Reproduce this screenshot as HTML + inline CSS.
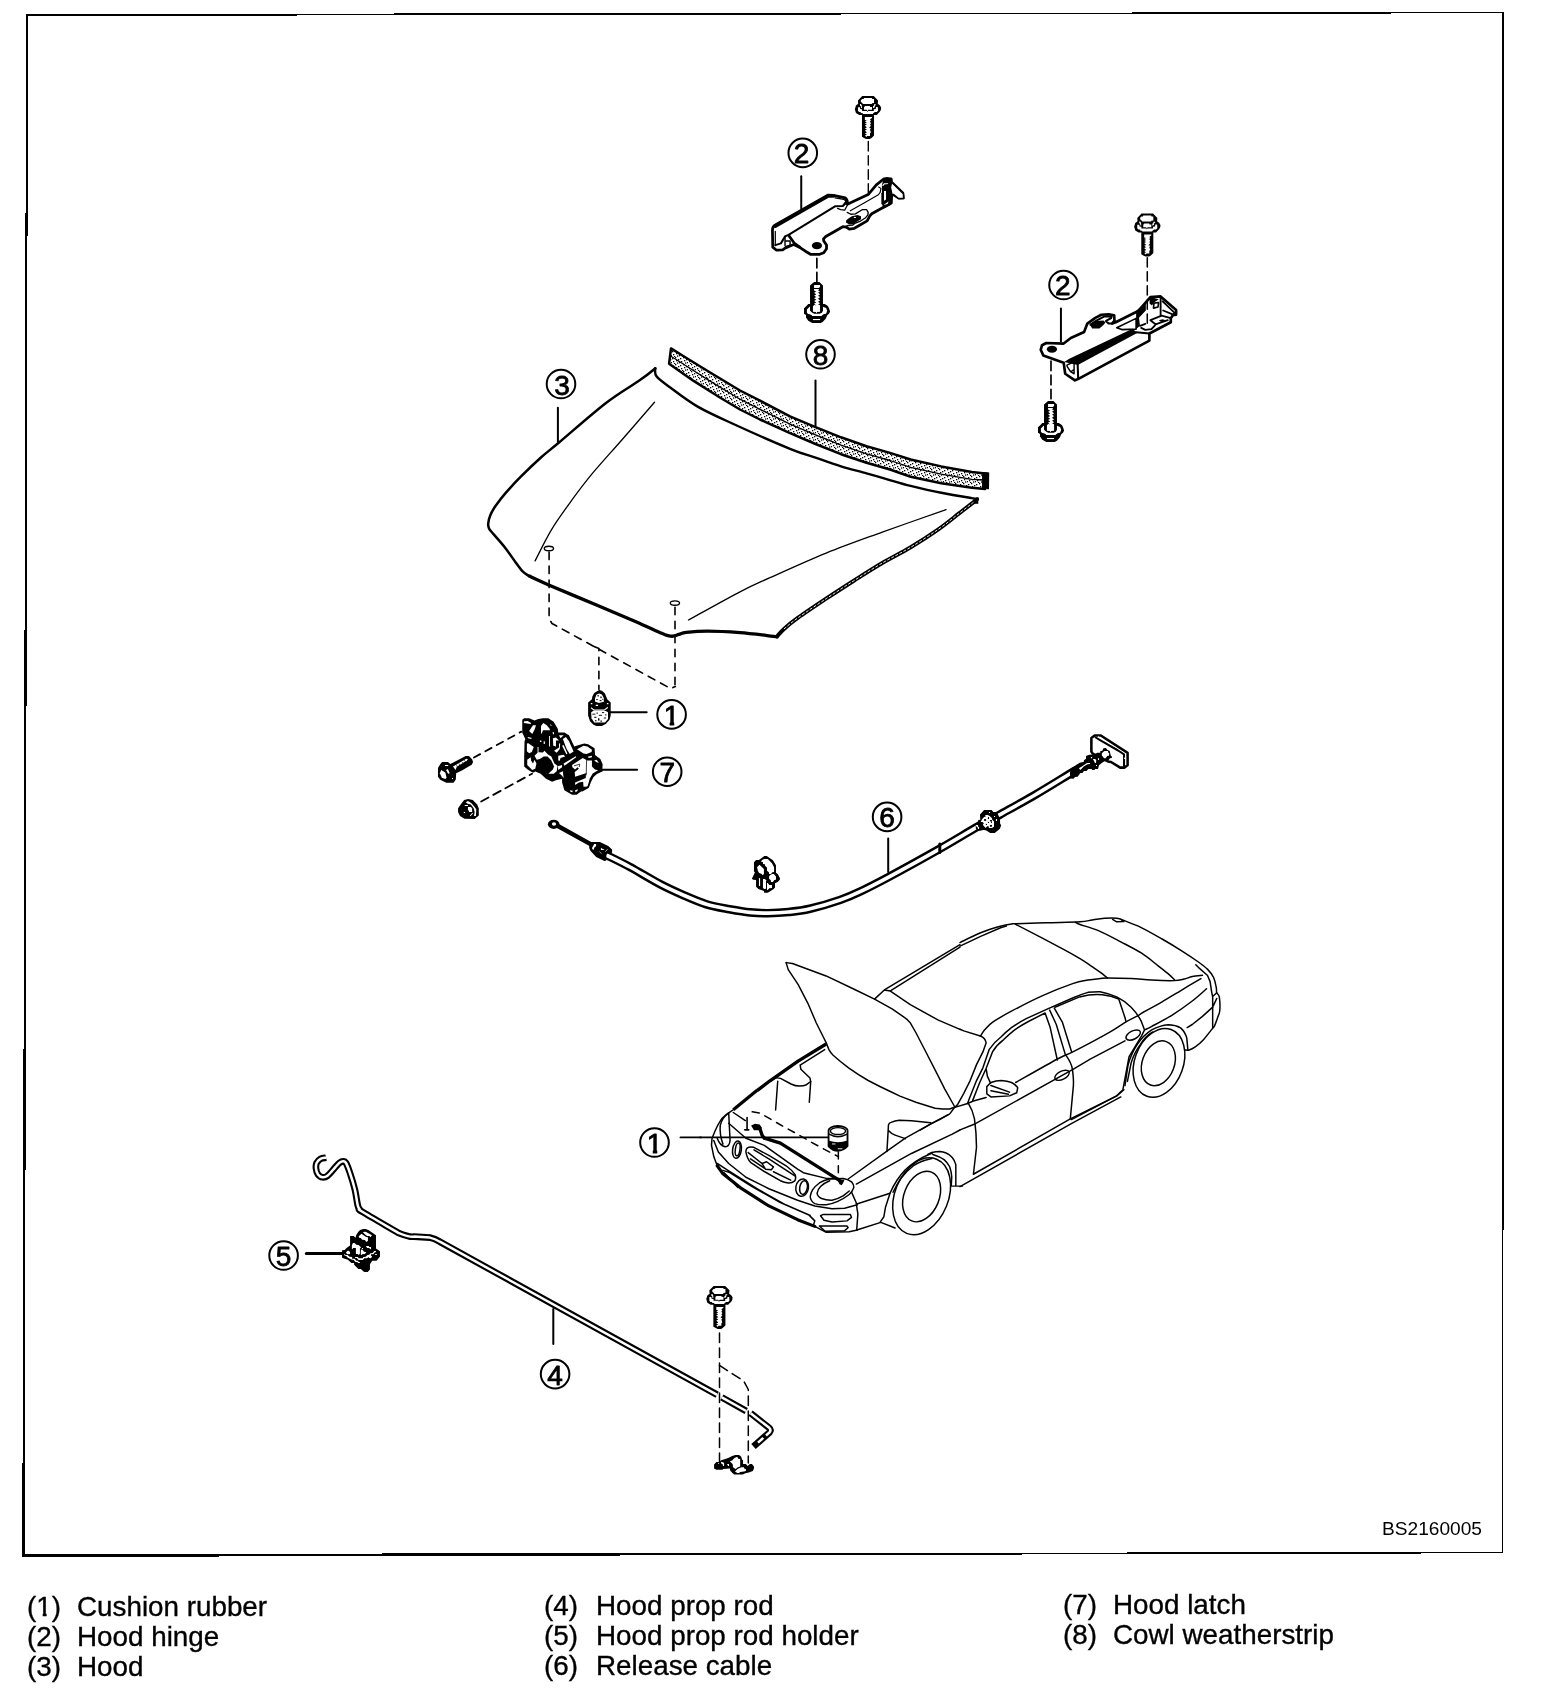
<!DOCTYPE html>
<html><head><meta charset="utf-8">
<style>
html,body{margin:0;padding:0;background:#fff;}
body{width:1568px;height:1698px;overflow:hidden;position:relative;font-family:"Liberation Sans",sans-serif;color:#000;}
svg{position:absolute;left:0;top:0;will-change:transform;}
.leg{position:absolute;font-size:26px;line-height:30px;white-space:pre;}
.s{fill:none;stroke:#000;stroke-linecap:round;stroke-linejoin:round;}
.f{fill:#000;stroke:none;}
.w{fill:#fff;stroke:#000;stroke-linejoin:round;}
text{font-family:"Liberation Sans",sans-serif;fill:#000;}
</style></head><body>
<svg width="1568" height="1698" viewBox="0 0 1568 1698">
<defs>
<!-- bolt: origin = top centre of head, pointing down. drawn in 22.4x zoom coords -->
<g id="bolt" transform="scale(0.04464) translate(-740,-245)">
<path class="f" d="M610,245 H870 L965,345 L960,420 L1005,455 L1035,500 L1030,555 L1005,600 L935,670 H875 V1130 L820,1185 L780,1210 H700 L650,1185 L605,1160 V670 H545 L470,625 L445,540 L470,460 L520,420 L515,345 Z"/>
<path fill="#fff" d="M650,290 H825 L835,315 H875 V400 L830,405 L825,425 H630 L610,400 L580,375 V340 L610,315 L645,310 Z"/>
<path fill="#fff" d="M675,470 H780 L790,490 L830,492 V555 H745 L730,585 L715,555 H650 V495 Z"/>
<path fill="#fff" d="M560,425 H580 L600,455 L605,515 H585 L580,475 L560,465 Z"/>
<path fill="#fff" d="M875,430 H915 V450 L895,460 L890,495 L865,515 H850 L855,470 L875,465 Z"/>
<path fill="#fff" d="M515,495 H560 L565,535 L605,540 L610,580 H715 L730,605 L745,582 H870 V540 L915,535 L920,492 H960 L965,575 L935,605 H895 L855,630 L850,650 H630 L620,630 L580,628 L575,605 H540 L515,575 Z"/>
<path fill="#fff" d="M670,715 H830 V735 L785,770 L805,795 L785,815 L805,860 L785,885 L805,910 L765,955 L805,970 L785,1000 L805,1060 L785,1080 V1140 H720 L705,1165 L670,1130 L715,1115 L670,1085 L715,1065 L670,1020 L715,1000 L670,965 L715,950 L670,905 L715,885 L670,860 L715,840 L670,815 L715,795 L670,780 Z"/>
</g>
<!-- bolt2: up-pointing bolt seen from above; origin = bottom centre of head. 22.4x coords -->
<g id="bolt2" transform="scale(0.04464) translate(-705,-1075)">
<path class="f" d="M650,155 H770 L850,235 V650 H890 L960,695 L985,745 L1010,820 L985,870 L945,900 L915,975 L850,1045 L800,1075 H610 L520,1025 L470,950 V895 L425,865 V745 L480,695 L520,650 H560 V235 Z"/>
<path fill="#fff" d="M650,225 H785 V265 L760,290 H650 Z"/>
<path fill="#fff" d="M650,315 H765 L740,345 L785,365 L740,395 L785,430 L740,465 L785,495 L740,530 L785,570 L740,600 L785,635 L740,660 L785,675 V825 L720,830 L705,855 L690,830 L625,825 V700 L660,665 L700,690 L650,640 L700,615 L650,580 L700,555 L650,520 L700,495 L650,460 L700,435 L650,400 L700,375 L650,345 Z"/>
<path fill="#fff" d="M490,770 L550,710 H560 V800 L610,845 L655,870 H775 L825,845 L850,800 V710 L920,740 L945,800 L920,870 L875,875 L830,900 L820,920 H610 L600,900 L555,880 L520,875 L490,845 Z"/>
<path fill="#fff" d="M625,985 H785 V1010 H625 Z"/>
</g>
<pattern id="stip" width="8" height="7" patternUnits="userSpaceOnUse">
<g fill="#000"><rect x="0" y="1" width="1.3" height="1.3"/><rect x="3" y="0" width="1.3" height="1.3"/><rect x="6" y="2" width="1.3" height="1.3"/><rect x="1" y="4" width="1.3" height="1.3"/><rect x="4" y="3" width="1.3" height="1.3"/><rect x="7" y="5" width="1.3" height="1.3"/><rect x="2" y="6" width="1.3" height="1"/><rect x="5" y="5.4" width="1.3" height="1.3"/></g>
</pattern>
<clipPath id="nofoot"><path clip-rule="evenodd" d="M0,0 H1568 V1698 H0 Z M664,721.4 H669.7 V726.2 H664 Z M674.2,721.4 H679 V726.2 H674.2 Z M647,1149.5 H652.8 V1154.3 H647 Z M657.2,1149.5 H662 V1154.3 H657.2 Z M37,1612.5 H42.7 V1617 H37 Z M46.6,1612.5 H51.5 V1617 H46.6 Z"/></clipPath>
</defs>
<!-- BORDER -->
<g fill="#000" shape-rendering="crispEdges">
<polygon points="26,14 28,14 24.7,1557 22.3,1557"/>
<polygon points="26,14 1504,12 1504,13.3 26,16"/>
<polygon points="1502,12 1504,12 1503.4,1553.3 1502,1553.3"/>
<polygon points="22,1554 1503.4,1552 1503.4,1553.3 22,1557"/>
</g>
<text x="1382" y="1535" font-size="18.5" textLength="100" lengthAdjust="spacingAndGlyphs">BS2160005</text>
<!-- LEGEND -->
<g font-size="27.8" stroke="#000" stroke-width="0.35">
<text x="27" y="1616" clip-path="url(#nofoot)">(1)</text><text x="77" y="1616">Cushion rubber</text>
<text x="27" y="1646">(2)</text><text x="77" y="1646">Hood hinge</text>
<text x="27" y="1676">(3)</text><text x="77" y="1676">Hood</text>
<text x="544" y="1615">(4)</text><text x="596" y="1615">Hood prop rod</text>
<text x="544" y="1645">(5)</text><text x="596" y="1645">Hood prop rod holder</text>
<text x="544" y="1675">(6)</text><text x="596" y="1675">Release cable</text>
<text x="1063" y="1614">(7)</text><text x="1113" y="1614">Hood latch</text>
<text x="1063" y="1644">(8)</text><text x="1113" y="1644">Cowl weatherstrip</text>
</g>
<!-- TOP HINGE bolts -->
<use href="#bolt" transform="translate(868,96)"/>
<!-- TOP HINGE body: left part in 9.8x coords of [760,165] -->
<g transform="translate(760,165) scale(0.10204)">
<path class="w" stroke-width="27" d="M125,805 L122,640 Q122,600 150,588 L665,295 L720,297 L835,322 Q862,345 856,385 L1060,290 L1140,195 L1215,135 L1285,135 L1290,170 L1400,275 L1405,325 L1360,325 L1300,285 L1290,300 L1287,372 L1095,478 L1075,500 L1050,548 L925,620 L875,628 L845,608 L812,605 L645,700 L622,725 L625,745 L652,785 L652,820 L625,860 L585,875 L495,875 L445,845 L385,805 L330,780 L250,812 L222,832 L162,835 Z"/>
<path class="s" stroke-width="34" d="M150,600 L668,303 L720,304"/>
<path class="s" stroke-width="12" d="M150,790 L150,650 M735,322 L820,336 L843,354 L812,398"/>
<path class="s" stroke-width="20" d="M150,785 L205,768 L245,700 L280,685 L735,405 L812,402 L852,362"/>
<path class="s" stroke-width="26" d="M283,692 L335,765 L390,805"/>
<path class="s" stroke-width="14" d="M245,700 V790 M255,745 H295 V785 L250,800"/>
<path class="s" stroke-width="12" d="M760,425 L790,437 L830,442 L856,395"/>
<ellipse class="f" cx="558" cy="790" rx="50" ry="36"/>
</g>
<!-- right part in 19.6x coords of [835,170] -->
<g transform="translate(835,170) scale(0.05102)">
<path class="f" d="M920,300 L950,160 L1020,135 L1100,160 L1115,230 L1115,640 L1090,685 L950,760 L920,660 Z"/>
<path fill="#fff" d="M960,410 H1000 V580 L960,605 Z M960,260 H1040 V275 L965,282 L955,310 H920 Z M960,680 L1040,620 L1052,612 L1030,665 L960,688 Z"/>
<path class="w" stroke-width="30" d="M1110,240 L1340,465 L1345,555 L1245,558 L1150,480 L1115,480 L1085,340 Z"/>
<path class="s" stroke-width="22" d="M300,800 L570,645 L850,485 L885,440 L900,360 L855,335"/>
<path class="s" stroke-width="22" d="M920,455 V660"/>
<path class="s" stroke-width="26" d="M240,830 L310,868 L400,860 L540,775 L620,775 L650,830 L645,880 L600,935 L500,1000 L400,1040 L350,1080 L260,1088 L220,1100"/>
<path class="f" d="M220,985 L270,945 L330,905 L440,880 L510,905 L510,965 L420,1020 L350,1070 L280,1070 L215,1030 Z"/>
<path fill="#fff" d="M370,920 H410 V940 H370Z"/>
</g>
<!-- callout 2 top + leader, dashed lines -->
<g transform="translate(740,80) scale(0.1531)">
<circle class="s" cx="410" cy="476" r="93.4" stroke-width="13"/>
<path class="s" stroke-width="13" d="M400,628 V840"/>
<path class="s" stroke-width="9" stroke-dasharray="62 30" d="M838,402 V745"/>
<path class="s" stroke-width="11" stroke-dasharray="62 30" d="M502,1165 V1320"/>
</g>
<text x="801.5" y="163.3" font-size="28" text-anchor="middle" stroke="#000" stroke-width="0.8" stroke-linejoin="round">2</text>
<use href="#bolt2" transform="translate(816.5,323)"/>
<!-- RIGHT HINGE body in 9.8x coords of [1030,285] -->
<g transform="translate(1030,285) scale(0.10204)">
<path class="w" stroke-width="26" d="M105,635 L118,590 L160,568 L330,574 L400,520 L530,460 L562,378 L640,322 L700,292 L770,287 L825,298 L828,350 L805,378 L840,365 L1065,252 L1135,170 L1180,118 L1280,112 L1432,245 L1432,290 L1400,296 L1380,325 L1380,365 L1180,470 L1170,475 L1170,545 L470,922 L440,935 L345,870 L330,762 L130,690 Z"/>
<path class="f" d="M335,755 L385,722 L1005,428 L1050,470 L468,785 Z"/>
<path class="s" stroke-width="20" d="M1040,462 L1170,475"/>
<path class="s" stroke-width="20" d="M467,770 L472,915"/>
<path class="s" stroke-width="14" d="M362,785 L432,752 L432,870 L398,850 L365,800 Z M400,850 L430,830"/>
<path class="s" stroke-width="20" d="M805,378 L770,378 L745,352 L795,325 L800,310 L730,307 L650,350 L592,388"/>
<path class="f" d="M590,395 L650,352 L720,347 L740,367 L720,392 L680,427 L610,427 Z"/>
<path class="f" d="M1040,255 L1135,165 L1135,250 L1068,320 L1078,400 L1040,432 Z"/>
<path class="s" stroke-width="16" d="M850,418 L1040,327 V432 L900,437 Z"/>
<path class="f" d="M1172,115 L1262,140 L1215,172 L1195,202 L1172,182 Z"/>
<path class="s" stroke-width="16" d="M1215,178 L1260,172 L1255,215 L1210,227 Z"/>
<path class="s" stroke-width="18" d="M1280,120 V300 M1300,160 L1415,270 L1410,292 L1305,250 M1180,345 L1290,300 L1380,325 M1180,345 L1230,385 L1350,345 M1080,400 L1130,380 M1090,420 L1130,440 L1190,432 L1225,395"/>
<path class="f" d="M1262,345 L1300,335 L1330,345 L1290,365 Z"/>
<ellipse class="f" cx="215" cy="630" rx="50" ry="34"/>
</g>
<g transform="translate(1000,200) scale(0.1531)">
<circle class="s" cx="415" cy="555" r="93.4" stroke-width="13"/>
<path class="s" stroke-width="13" d="M398,708 V925"/>
<path class="s" stroke-width="10" stroke-dasharray="60 32" d="M962,377 V830"/>
<path class="s" stroke-width="11" stroke-dasharray="62 30" d="M333,1052 V1310"/>
</g>
<text x="1062.8" y="295.3" font-size="28" text-anchor="middle" stroke="#000" stroke-width="0.8" stroke-linejoin="round">2</text>
<use href="#bolt" transform="translate(1147.3,213.5)"/>
<use href="#bolt2" transform="translate(1050.5,442)"/>
<!-- HOOD -->
<path class="s" stroke-width="2.5" d="M655.3,368.3 C652.8,370.3 648.2,374.3 640.0,380.1 C631.8,385.9 619.4,392.7 606.0,403.0 C592.6,413.3 570.4,432.9 559.6,442.0 C548.8,451.1 547.7,451.5 541.2,457.3 C534.7,463.1 526.8,470.7 520.8,476.7 C514.8,482.7 509.8,488.2 505.5,493.1 C501.2,498.0 497.9,502.6 495.3,506.3 C492.8,510.0 491.4,512.6 490.2,515.5 C489.0,518.4 488.4,521.5 488.2,523.7 C488.0,525.9 488.3,527.1 489.2,528.8 C490.1,530.5 490.6,530.7 493.3,533.9 C496.0,537.1 501.8,543.5 505.5,548.2 C509.2,553.0 512.8,558.5 515.7,562.4 C518.6,566.3 520.6,569.3 522.9,571.6 C525.2,573.9 528.2,575.4 529.3,576.1"/>
<path class="s" stroke-width="3.3" d="M529.3,576.1 C532.5,577.6 537.5,580.1 548.7,584.9 C559.9,589.7 582.1,599.0 596.5,605.0 C610.9,611.0 623.9,616.5 634.8,621.2 C645.6,625.9 656.1,630.9 661.6,633.3 C667.1,635.7 666.1,635.1 668.0,635.6 C669.9,636.1 671.2,636.4 673.0,636.2 C674.8,636.0 676.8,635.0 679.0,634.4 C681.2,633.8 681.6,632.9 686.4,632.4 C691.1,631.9 698.6,631.2 707.5,631.2 C716.4,631.2 728.4,631.8 740.0,632.7 C751.6,633.6 770.8,636.0 777.0,636.6"/>
<path class="s" stroke-width="4" d="M777.0,636.6 C778.2,635.3 780.5,632.0 784.0,628.9 C787.5,625.8 791.1,622.7 798.1,617.7 C805.1,612.7 816.8,604.9 826.1,598.7 C835.5,592.5 844.8,586.5 854.2,580.5 C863.6,574.5 872.9,568.5 882.3,563.0 C891.6,557.5 900.9,553.1 910.3,547.5 C919.6,541.9 930.2,535.0 938.4,529.3 C946.6,523.6 953.3,517.9 959.4,513.2 C965.5,508.5 972.0,503.5 974.9,501.2 C977.8,498.9 976.6,499.6 977.0,499.3"/>
<path fill="none" stroke="#fff" stroke-width="0.9" stroke-dasharray="3 1.6" d="M784.0,628.9 C786.4,627.0 791.1,622.7 798.1,617.7 C805.1,612.7 816.8,604.9 826.1,598.7 C835.5,592.5 844.8,586.5 854.2,580.5 C863.6,574.5 872.9,568.5 882.3,563.0 C891.6,557.5 900.9,553.1 910.3,547.5 C919.6,541.9 930.2,535.0 938.4,529.3 C946.6,523.6 953.3,517.9 959.4,513.2 C965.5,508.5 972.3,503.2 974.9,501.2"/>
<path class="s" stroke-width="2.4" d="M655.3,368.3 C655.5,369.6 654.0,373.1 656.5,376.3 C659.0,379.6 663.7,382.7 670.6,387.8 C677.5,392.9 687.3,400.7 698.1,406.9 C708.9,413.1 720.3,418.0 735.6,425.0 C750.9,432.0 776.7,443.4 790.0,448.8 C803.3,454.2 807.0,454.8 815.5,457.7 C824.0,460.6 832.5,463.7 841.0,466.3 C849.5,468.9 859.0,471.2 866.5,473.3 C874.0,475.4 878.4,476.7 885.7,478.8 C893.1,480.9 901.4,483.6 910.6,485.9 C919.9,488.2 931.0,490.8 941.2,492.8 C951.4,494.8 965.7,497.1 971.8,498.1 C977.9,499.1 976.9,498.6 977.9,498.7"/>
<path class="f" d="M973.5,498 H978.3 V503.8 H973.5 Z"/>
<path class="s" stroke-width="1.3" d="M654.5,402.3 C649.0,408.6 632.2,428.1 621.8,440.0 C611.4,451.9 600.5,463.7 592.2,473.7 C583.9,483.7 578.6,490.9 571.8,500.2 C565.0,509.5 557.5,519.7 551.4,529.8 C545.3,539.9 537.8,555.7 535.1,560.9"/>
<path class="s" stroke-width="1.3" d="M688.5,620.0 C697.1,615.3 726.4,598.8 740.0,591.8 C753.6,584.8 755.6,584.2 770.0,577.7 C784.4,571.2 807.4,560.7 826.1,553.1 C844.8,545.5 862.3,539.4 882.3,532.1 C902.3,524.9 935.5,513.4 946.1,509.6"/>
<ellipse class="w" cx="548.9" cy="548.5" rx="4.6" ry="2.2" stroke-width="1.4"/>
<ellipse class="w" cx="674.9" cy="603.1" rx="4.6" ry="2.2" stroke-width="1.4"/>
<!-- WEATHERSTRIP -->
<path d="M671.0,348.4 L682.8,355.7 L708.9,371.7 L740.0,390.5 L760.0,400.7 L790.0,416.3 L815.5,427.1 L841.0,437.3 L866.5,446.2 L890.0,452.9 L910.6,459.5 L941.2,466.4 L971.8,472.1 L987.5,473.7 L985.0,489.0 L971.8,487.8 L941.2,483.2 L910.6,476.7 L890.0,469.5 L866.5,462.8 L841.0,454.2 L815.5,444.0 L790.0,433.2 L760.0,419.5 L740.0,409.5 L720.3,397.7 L693.6,380.9 L669.1,363.7 Z" fill="url(#stip)" stroke="#000" stroke-width="2.5" stroke-linejoin="round"/>
<path class="s" stroke-width="1.3" d="M670.2,355.8 L682.8,363.8 L708.9,380.4 L740.0,399.2 L760.0,409.3 L790.0,424.1 L815.5,434.9 L841.0,445.1 L866.5,453.8 L890.0,460.5 L910.6,467.4 L941.2,474.1 L971.8,479.3 L984.0,480.0"/>
<path class="f" d="M982.1,472 L989.2,472.6 L989,489.2 L982,489 Z"/>
<!-- callouts 3, 8, 1, 7 -->
<g class="s" stroke-width="2">
<circle cx="561" cy="384" r="14.3"/><circle cx="820.5" cy="354.3" r="14.3"/><circle cx="671.6" cy="714.4" r="14.3"/><circle cx="667.2" cy="771.7" r="14.3"/>
</g>
<g class="s" stroke-width="2">
<path d="M557.9,407.7 V442"/><path d="M815.5,380.5 V426"/><path d="M610.4,712.2 H646.7"/><path d="M601.7,769.8 H637.1"/>
</g>
<g font-size="28" text-anchor="middle" stroke="#000" stroke-width="0.8" stroke-linejoin="round">
<text x="562" y="394.7">3</text><text x="820.5" y="364.8">8</text><text x="671.6" y="724.9" clip-path="url(#nofoot)">1</text><text x="667.2" y="782.2">7</text>
</g>
<!-- dashed guide lines under hood -->
<g class="s" stroke-width="1.6" stroke-dasharray="7.6 6.4">
<path d="M549.1,552 V618.7 L552,623.5 L670.6,688.5 L675.4,686.6"/>
<path d="M594,646.5 L598.9,648.5 V689.5"/>
<path d="M675,607.2 V685.7"/>
<path stroke-width="1.8" stroke-dasharray="7 6" d="M474,757.5 L521.4,731.6"/>
<path stroke-width="1.8" stroke-dasharray="8.3 5.5" d="M481.2,801.5 L532,773.7"/>
</g>
<!-- LATCH + CUSHION in 13.06x coords of [510,680] -->
<g transform="translate(510,680) scale(0.07658)">
<path class="f" d="M160,520 L185,498 L250,498 L320,530 L370,510 L430,498 L500,498 L570,545 L625,640 L630,685 L710,685 L770,720 L840,870 L900,850 L970,830 L1020,840 L1105,890 L1110,980 L1180,1030 L1210,1100 L1205,1185 L1130,1215 L1080,1260 L1045,1330 L1020,1400 L940,1445 L870,1500 L810,1500 L710,1440 L680,1340 L680,1290 L600,1310 L550,1330 L470,1290 L400,1225 L330,1195 L300,1210 L230,1170 L185,1130 L185,1020 L190,800 L200,770 L160,690 Z"/>
<g fill="#fff">
<path d="M185,540 L230,535 L275,560 L270,575 L180,560 Z"/>
<path d="M250,665 L300,590 L340,590 L320,650 L290,705 Z"/>
<path d="M405,600 L435,560 L480,590 L520,640 L520,655 L430,655 L415,700 L405,700 Z"/>
<path d="M220,830 L240,825 L310,875 L285,940 L250,955 L220,930 Z"/>
<path d="M225,1040 L270,1010 L275,1050 L300,1090 L320,1040 L345,1090 L330,1160 L290,1175 L225,1110 Z"/>
<path d="M320,990 L360,950 L360,875 L372,875 L372,945 L430,948 L450,925 L500,975 L540,1000 L580,1090 L620,1120 L610,1190 L570,1225 L500,1225 L560,1170 L575,1130 L540,1050 L490,1000 L440,1000 L390,1030 L350,1040 Z"/>
<path d="M560,760 L600,750 L640,790 L600,790 L600,870 L565,860 Z"/>
<path d="M640,720 L700,720 L660,760 Z"/>
<path d="M690,770 L730,745 L770,800 L830,935 L780,965 L740,900 Z"/>
<path d="M575,925 L640,880 L640,830 L655,830 L650,900 L610,950 Z"/>
<path d="M680,860 L700,850 L750,960 L735,970 Z"/>
<path d="M630,990 L700,975 L720,1000 L660,1020 L650,1055 L630,1050 Z"/>
<path d="M875,905 L960,860 L1010,870 L1070,910 L1065,940 L1000,965 L960,960 Z"/>
<path d="M700,1090 L860,995 L865,1010 L710,1120 Z"/>
<path d="M625,1125 L680,1110 L680,1140 L630,1175 Z"/>
<path d="M640,1215 L690,1190 L700,1280 L680,1250 Z"/>
<path d="M810,1110 L950,1020 L1010,1050 L1070,1050 L1070,1130 L1110,1170 L1150,1180 L1080,1220 L1040,1290 L1020,1390 L960,1395 L955,1330 L900,1340 L850,1370 L850,1340 L990,1280 L990,1240 L1000,1215 L850,1265 L845,1200 L900,1160 L880,1140 L850,1170 L815,1140 Z"/>
<path d="M1020,1000 L1070,990 L1070,1010 L1025,1020 Z M1100,1050 L1130,1040 L1160,1080 L1130,1075 Z M780,1440 L820,1445 L815,1465 L790,1460 Z M850,1440 L885,1425 L880,1450 L855,1465 Z M230,745 L280,755 L280,770 L235,760 Z M390,790 L410,790 L410,810 L390,810 Z M440,800 L455,800 L455,835 L440,835 Z M510,730 L522,730 L522,870 L510,870 Z M550,690 L575,680 L575,715 Z M520,575 L545,590 L535,600 Z"/>
</g>
<path class="s" stroke-width="10" d="M1000,1050 L995,1240 M840,1120 L910,1100 L905,1130 M430,1060 L470,1040 L490,1080 M490,1100 L500,1150 L480,1170"/>
<path class="s" stroke-width="24" d="M1200,1185 L1130,1215 L1080,1260 L1045,1330 L1020,1400 L940,1445"/>
<!-- cushion -->
<path class="f" d="M1165,130 L1100,170 L1075,215 L1070,250 L1020,295 L1020,465 L1045,540 L1090,585 L1130,600 L1200,600 L1250,575 L1300,520 L1315,465 L1315,295 L1270,250 L1240,175 L1200,140 Z"/>
<path fill="#fff" d="M1165,175 L1130,190 L1110,240 L1110,280 L1160,300 L1225,285 L1225,235 L1200,190 Z"/>
<path fill="#fff" d="M1060,355 L1100,385 L1230,385 L1275,350 L1280,365 L1230,400 L1095,400 L1055,370 Z"/>
<path fill="#fff" d="M1060,420 L1085,405 L1250,405 L1280,420 L1280,510 L1240,555 L1100,555 L1065,500 Z"/>
<g class="f"><rect x="1140" y="200" width="22" height="14"/><rect x="1180" y="215" width="16" height="22"/><rect x="1125" y="250" width="22" height="12"/><rect x="1170" y="262" width="24" height="14"/><rect x="1205" y="245" width="12" height="14"/>
<rect x="1075" y="440" width="40" height="12"/><rect x="1130" y="425" width="16" height="16"/><rect x="1200" y="420" width="30" height="12"/><rect x="1160" y="455" width="40" height="12"/><rect x="1100" y="480" width="28" height="14"/><rect x="1225" y="490" width="30" height="12"/><rect x="1150" y="500" width="18" height="30"/><rect x="1180" y="530" width="22" height="14"/><rect x="1110" y="525" width="20" height="14"/><rect x="1240" y="450" width="20" height="12"/></g>
<path fill="#fff" d="M1055,300 L1075,300 L1075,318 L1055,318 Z M1265,300 L1285,300 L1285,318 L1265,318 Z M1120,322 L1150,322 L1150,338 L1120,338 Z"/>
</g>
<!-- latch bolt + nut in 15.68x coords of [430,740] -->
<g transform="translate(430,740) scale(0.06378)">
<path class="f" d="M190,345 L280,345 L320,375 L560,250 L610,250 L660,300 L675,345 L655,390 L600,420 L500,480 L410,520 L405,620 L370,670 L255,670 L160,625 L125,575 L125,440 L160,380 Z"/>
<g fill="#fff">
<path d="M175,470 L240,510 L260,590 L240,610 L185,590 L155,520 Z"/>
<path d="M235,392 H285 V408 H235 Z"/>
<path d="M250,470 L280,455 L310,520 L285,530 Z"/>
<path d="M360,415 L570,295 L595,300 L575,330 L540,345 L420,420 L400,470 Z"/>
<path d="M345,595 H360 V610 H345 Z"/>
</g>
<path class="s" stroke-width="9" d="M415,390 L430,420 M455,370 L475,410 M500,345 L520,365 M540,320 L570,355"/>
<path class="f" d="M535,940 L600,925 L670,940 L740,1010 L765,1075 L765,1185 L700,1240 L540,1235 L470,1190 L440,1130 L440,1070 L475,1020 Z"/>
<g fill="#fff">
<path d="M560,975 L595,955 L650,990 L700,1050 L725,1085 L720,1190 L690,1190 L700,1130 L685,1070 L640,1010 L590,1000 Z"/>
<path d="M595,1050 L640,1050 L660,1075 L660,1130 L615,1130 L595,1085 Z"/>
<path d="M545,1020 H595 V1035 H545 Z M530,1130 H550 V1145 H530 Z M625,1185 L665,1140 L675,1150 L635,1195 Z"/>
</g>
</g>
<!-- CABLE -->
<path class="s" stroke-width="8.6" stroke-linecap="butt" d="M606.3,855.0 C610.2,857.0 621.0,862.1 630.0,867.0 C639.0,871.9 651.7,879.7 660.6,884.4 C669.5,889.1 676.0,891.9 683.6,895.2 C691.2,898.5 698.9,901.9 706.5,904.3 C714.1,906.6 722.2,907.9 729.5,909.3 C736.8,910.6 743.6,911.8 750.0,912.4 C756.4,913.0 761.5,913.3 768.0,913.2 C774.5,913.1 781.7,912.7 788.7,912.0 C795.7,911.3 801.5,910.8 810.0,908.8 C818.5,906.8 831.6,902.9 840.0,900.0 C848.4,897.1 852.6,895.2 860.6,891.4 C868.6,887.6 874.9,884.4 888.2,877.3 C901.5,870.2 925.4,857.0 940.2,848.6 C955.0,840.2 967.0,832.7 976.9,827.1 C986.8,821.5 989.9,820.2 999.4,814.9 C1008.9,809.6 1021.8,802.6 1034.1,795.5 C1046.3,788.4 1064.9,776.8 1072.9,772.0 C1080.9,767.2 1080.5,767.4 1082.0,766.5"/>
<path fill="none" stroke="#fff" stroke-width="3.7" stroke-linecap="butt" d="M606.3,855.0 C610.2,857.0 621.0,862.1 630.0,867.0 C639.0,871.9 651.7,879.7 660.6,884.4 C669.5,889.1 676.0,891.9 683.6,895.2 C691.2,898.5 698.9,901.9 706.5,904.3 C714.1,906.6 722.2,907.9 729.5,909.3 C736.8,910.6 743.6,911.8 750.0,912.4 C756.4,913.0 761.5,913.3 768.0,913.2 C774.5,913.1 781.7,912.7 788.7,912.0 C795.7,911.3 801.5,910.8 810.0,908.8 C818.5,906.8 831.6,902.9 840.0,900.0 C848.4,897.1 852.6,895.2 860.6,891.4 C868.6,887.6 874.9,884.4 888.2,877.3 C901.5,870.2 925.4,857.0 940.2,848.6 C955.0,840.2 967.0,832.7 976.9,827.1 C986.8,821.5 989.9,820.2 999.4,814.9 C1008.9,809.6 1021.8,802.6 1034.1,795.5 C1046.3,788.4 1064.9,776.8 1072.9,772.0 C1080.9,767.2 1080.5,767.4 1082.0,766.5"/>
<path class="s" stroke-width="4.4" d="M557.9,826 L591,844.4"/>
<ellipse class="f" cx="553.7" cy="824.3" rx="5.8" ry="4.6"/><ellipse fill="#fff" cx="554" cy="824" rx="2.1" ry="1.7"/>
<g transform="translate(540,810) scale(0.06378)">
<path class="f" d="M780,500 L940,500 L1070,565 L1130,620 L1130,670 L1040,685 L1040,790 L1010,800 L880,735 L790,640 L770,590 Z"/>
<path fill="#fff" d="M850,535 L880,535 L880,565 L850,590 L845,625 L825,620 L815,595 Z M955,600 L975,600 L980,615 L1005,615 L1005,628 L955,628 Z"/>
<path stroke="#fff" stroke-width="10" d="M930,650 L965,685 M1025,655 L1060,615"/>
</g>
<!-- cable band mark + grommet -->
<path class="s" stroke-width="3" stroke-linecap="butt" d="M939.8,844 V852.5"/>
<g transform="translate(930,790) scale(0.05102)">
<path class="f" d="M1060,390 L1210,390 L1240,430 L1310,430 L1370,560 L1375,660 L1395,690 L1370,760 L1270,845 L1180,845 L1095,790 L1040,785 L985,800 L940,790 L900,770 L895,700 L945,640 L945,590 L985,585 L980,480 Z"/>
<path fill="#fff" d="M1080,490 L1130,490 L1170,510 L1215,555 L1220,585 L1255,615 L1255,720 L1215,745 L1155,745 L1150,710 L1120,710 L1090,745 L1060,710 L1035,680 L1055,650 L1030,625 L995,625 L1020,575 L1060,530 L1095,520 Z"/>
<g class="f"><rect x="1060" y="570" width="40" height="35"/><rect x="1135" y="530" width="22" height="40"/><rect x="1175" y="590" width="40" height="25"/><rect x="1195" y="615" width="20" height="30"/><rect x="1135" y="625" width="22" height="22"/><rect x="1095" y="665" width="22" height="22"/><rect x="1175" y="685" width="40" height="35"/></g>
<path fill="#fff" d="M900,685 L940,685 L945,720 L965,730 L960,765 L940,765 L935,735 L900,705 Z M1155,430 h22 v22 h-22 Z M1255,510 h20 v20 h-20 Z M1292,570 h22 v38 h-22 Z"/>
</g>
<!-- handle in 19.6x coords of [1060,725] -->
<g transform="translate(1060,725) scale(0.05102)">
<path class="w" stroke-width="50" d="M615,255 L680,205 L800,205 L1325,545 L1325,790 L1265,835 L1180,835 L1000,725 L940,715 L640,560 L615,520 Z"/>
<path class="s" stroke-width="40" d="M700,245 L810,312 L1140,500 L1255,575 L1255,810"/>
<path stroke="#fff" stroke-width="12" stroke-dasharray="30 26" fill="none" d="M745,218 L1295,565"/>
<path fill="#fff" d="M1255,640 h40 v25 h-40 Z"/>
<path class="f" d="M510,610 L575,585 L670,580 L730,545 L790,545 L790,510 L830,505 L850,455 L900,450 L930,490 L975,510 L995,600 L1020,620 L1015,645 L980,650 L955,685 L940,705 L870,710 L820,745 L765,790 L745,860 L685,862 L680,880 L630,880 L620,860 L555,860 L520,900 L470,900 L440,940 L400,940 L345,1015 L295,1020 L265,1055 L200,1050 L195,940 L215,850 L330,800 L400,765 L465,720 L470,690 L510,660 Z"/>
<path fill="#fff" d="M870,510 L940,510 L945,545 L965,550 L960,605 L925,610 L895,650 L865,650 L820,600 L820,555 Z"/>
<path fill="#fff" d="M605,625 h25 v25 h-25 Z M745,650 h20 v35 h-20 Z M705,785 h20 v20 h-20 Z M645,665 L690,665 L710,690 L705,745 L685,745 L665,700 Z M370,850 L420,820 L530,745 L590,745 L585,765 L540,770 L470,810 L400,880 Z"/>
</g>
<!-- clip in 26.13x coords of [740,845] -->
<g transform="translate(740,845) scale(0.03827)">
<path class="f" d="M635,290 L700,290 L860,400 L940,530 L940,725 L990,765 L1045,870 L1040,910 L985,965 L915,1000 L915,1110 L880,1150 L800,1200 L725,1250 L630,1250 L625,1200 L480,1150 L420,1090 L420,915 L345,910 L310,880 L370,760 L390,710 L365,695 L365,450 L420,395 L495,390 Z"/>
<g fill="#fff">
<path d="M545,430 L580,390 L630,365 L725,365 L835,480 L890,580 L890,705 L845,710 L810,760 L760,760 L755,715 L705,675 L705,585 L655,545 L650,500 L600,495 L600,450 Z"/>
<path d="M445,580 L510,515 L625,630 L625,755 L590,790 L570,760 L500,730 L470,680 Z"/>
<path d="M760,815 L790,785 L840,755 L885,760 L940,820 L940,910 L895,915 L860,965 L810,965 L805,920 L760,885 Z"/>
<path d="M495,865 H525 V1070 H495 Z"/>
<path d="M600,890 L650,890 L680,920 L680,1145 L630,1150 L600,1115 Z"/>
<path d="M705,995 L725,990 L765,1045 L835,1045 L835,1125 L765,1130 L720,1180 L705,1170 Z"/>
</g>
</g>
<!-- callout 6 -->
<circle class="s" cx="887.1" cy="816.9" r="14.3" stroke-width="2"/>
<path class="s" stroke-width="2" d="M888.2,838.4 V872"/>
<text x="887.1" y="827.4" font-size="28" text-anchor="middle" stroke="#000" stroke-width="0.8" stroke-linejoin="round">6</text>
<!-- CAR: rear half in 4.85x coords of [960,900] -->
<g transform="translate(960,900) scale(0.20619)" class="s" stroke-width="7.2">
<path d="M0.0,206.4 C16.7,198.5 66.7,172.2 100.0,158.8 C133.3,145.4 175.0,133.3 200.0,126.2 C225.0,119.1 237.7,118.2 250.0,116.3 C262.3,114.4 245.7,115.8 274.0,114.8 C302.3,113.8 368.7,111.5 420.0,110.0 C471.3,108.5 545.2,108.2 582.0,106.0 C618.8,103.8 621.2,99.3 641.0,96.5 C660.8,93.7 681.2,90.2 701.0,89.0 C720.8,87.8 743.5,86.9 760.0,89.0 C776.5,91.1 780.2,94.1 800.0,101.5 C819.8,108.9 849.3,119.2 879.0,133.6 C908.7,148.0 945.0,169.0 978.0,188.0 C1011.0,207.0 1048.2,229.3 1077.0,247.5 C1105.8,265.7 1130.3,282.2 1151.0,297.0 C1171.7,311.8 1187.8,323.3 1201.0,336.5 C1214.2,349.7 1223.0,361.1 1230.0,376.0 C1237.0,390.9 1240.5,413.3 1243.0,425.6 C1245.5,437.9 1242.6,442.6 1245.0,450.0 C1247.4,457.4 1255.0,455.9 1257.5,470.0 C1260.0,484.1 1261.2,518.0 1260.0,534.5 C1258.8,551.0 1254.2,556.6 1250.0,569.0 C1245.8,581.4 1240.0,599.1 1235.0,609.0 C1230.0,618.9 1229.8,616.2 1220.0,628.5 C1210.2,640.8 1189.2,669.0 1176.0,683.0 C1162.8,697.0 1151.8,705.2 1141.0,712.6 C1130.2,720.0 1119.7,725.0 1111.5,727.5 C1103.3,730.0 1095.2,727.5 1092.0,727.5"/>
<path d="M0,223.7 L100,176.2 L200,133.6 L225,126"/>
<path d="M740,94 L760,106 L795,104 L780,94"/>
<path d="M270.0,118.0 C308.3,138.0 448.0,210.2 500.0,238.0 C552.0,265.8 560.1,271.5 582.0,284.6 C603.9,297.7 615.0,305.6 631.5,316.7 C648.0,327.8 667.0,341.1 681.0,351.4 C695.0,361.7 709.8,374.1 715.6,378.6"/>
<path d="M560.0,108.0 C563.7,109.8 563.5,112.0 582.0,118.8 C600.5,125.5 638.0,134.5 671.0,148.5 C704.0,162.5 745.3,184.9 780.0,203.0 C814.7,221.1 849.3,238.1 879.0,257.0 C908.7,275.9 936.6,300.2 958.0,316.7 C979.4,333.2 993.9,344.4 1007.6,356.0 C1021.3,367.6 1034.6,381.0 1040.0,386.0"/>
<path d="M0,627 L18.3,634.6 L98.7,659.3 Q123.5,668 126.6,693.3 L111.1,736.7 L80.2,798.5 L49.2,875.8 L18.3,937.7 L-12.6,993.4 L-25,1005.7 L36.9,987.2 L64.7,974.8 L126.6,957.8"/>
<path d="M98.5,660.7 C102.2,655.3 110.5,640.0 120.8,628.5 C131.1,617.0 138.9,606.2 160.3,591.4 C181.7,576.5 209.8,560.4 249.4,539.4 C289.0,518.4 348.4,487.5 397.9,465.2 C447.4,442.9 509.3,418.6 546.4,405.8 C583.5,393.0 598.5,392.6 620.6,388.5 C642.7,384.4 663.2,382.6 679.0,381.0 C694.8,379.4 690.5,378.6 715.6,378.6 C740.7,378.6 794.0,379.4 829.5,381.0 C865.0,382.6 893.8,386.8 928.4,388.5 C963.0,390.2 1010.9,391.8 1037.3,391.0 C1063.7,390.2 1071.9,386.8 1086.8,383.5 C1101.7,380.2 1111.5,374.2 1126.4,371.2 C1141.3,368.1 1167.7,366.2 1176.0,365.2"/>
<path d="M1143.7,314 L1156,326.6 L1200.6,366.2 L1213,396 L1220.4,445.4 L1225.4,470 L1225.4,618.6 M1225.4,467.7 L1245,450 M1245,477.6 L1227.8,514.7"/>
<path d="M1168.5,381.0 C1153.2,390.1 1108.8,416.5 1077.0,435.5 C1045.2,454.5 1009.3,476.9 978.0,495.0 C946.7,513.1 908.4,533.3 889.0,544.4 C869.6,555.5 875.6,553.9 861.6,561.7 C847.6,569.5 826.6,578.6 804.7,591.4 C782.9,604.2 759.4,621.5 730.5,638.4 C701.6,655.3 663.2,676.0 631.5,692.9 C599.8,709.8 566.1,727.1 540.0,740.0 C513.9,752.9 520.0,745.8 475.0,770.0 C430.0,794.2 304.2,865.8 270.0,885.0"/>
<path d="M1195.7,430.6 C1184.2,440.5 1154.5,468.6 1126.4,490.0 C1098.4,511.4 1060.4,538.6 1027.4,559.2 C994.4,579.8 949.9,602.2 928.4,613.7 C906.9,625.2 903.7,626.0 898.7,628.5"/>
<path d="M800,683 L631.5,772 L550,820 L75,1085 L0,1115"/>
<path d="M1101.6,618.6 L1126.4,603.8 L1176,564.2 L1225.4,519.6"/>
<path d="M36.9,987.2 L43,968.6 L80.2,875.8 L111.1,814 L142,724.3 Q165,690 200,663.2 Q222,640 249.4,618.6 Q285,594 323.7,574.1 L422.6,529.5 L546.4,475.1 Q585,458 620.6,447.9 Q650,445 679,445.4 Q725,455 760,470 Q800,490 830,520 Q860,550 880,590 L895,630 L880,660 L820,760 L790,920 L760,950 L540,1065"/>
<path d="M61.6,971.7 L95.6,885 L126.6,817 L157.5,736.7 Q178,702 212,677 Q236,653 262,632 Q296,608 334,588 L412.7,548 L437.5,618.6 L472,776 M126.6,817 L132.7,854 L148,888"/>
<path d="M435,534 L467,603.8 L511.7,752.2 M457.3,524.6 L497,593.9 L541.4,737.4"/>
<path d="M460,520 L580,470 Q640,455 690,460 Q735,465 770,480 L800,570 L805,590"/>
<path d="M515,755 Q540,790 545,820 Q552,870 550,900 L535,1060"/>
<path d="M40,985 Q62,1020 70,1060 Q80,1130 80,1200 L65,1330 L535,1062 L760,950 L795,920"/>
<path d="M0,1390 L540,1085 L780,955"/>
<ellipse cx="495" cy="850" rx="38" ry="20" transform="rotate(-27 495 850)"/>
<ellipse cx="840" cy="655" rx="38" ry="20" transform="rotate(-27 840 655)"/>
<path d="M130,905 L150,885 Q175,875 200,875 Q230,878 250,885 Q270,895 280,910 L275,935 L240,950 L150,955 L130,940 Z M150,900 L240,932 M150,925 L235,942"/>
<ellipse cx="965" cy="790" rx="118" ry="172" transform="rotate(20 965 790)"/>
<ellipse cx="962" cy="792" rx="78" ry="112" transform="rotate(20 962 792)"/>
<path d="M800,900 L815,800 Q830,745 860,700 Q890,655 930,630 Q970,608 1010,605 Q1045,606 1070,620 Q1092,640 1100,670 L1105,725"/>
<path d="M812,880 L830,790 Q845,740 875,700 Q900,660 935,640"/>
</g>
<!-- CAR A: open hood / windshield / engine bay top in 7.127x coords of [770,950] -->
<g transform="translate(770,950) scale(0.14031)" class="s" stroke-width="10.5">
<path d="M115,90 L160,96 L400,185 L600,280 L745,350 L870,420 L955,478 Q985,497 1000,520 L1040.1,589.8 L1108.3,721.6 L1199.2,898.9 L1244.7,989.8 L1317.4,1119"/>
<path d="M115,90 L130,140 L200,245 L270,380 L330,520 L380,620 L400,660 L420,710 Q430,730 450,750 Q500,795 560,840 Q630,890 700,930 Q775,970 850,1005 L926.5,1041 L1040,1085 L1176.5,1128.4 L1230,1133 L1281,1133 L1317.4,1119"/>
<path d="M745,350 L815,285 L1354,-38 M815,285 L858,292 L1354,-20"/>
<path d="M858,293 L1000,390 L1200,500 L1354,566"/>
<path d="M1317.4,1119 L1281,1168 Q1220,1205 1150,1238 L1070,1283"/>
<path stroke-width="24" stroke-linecap="butt" d="M-90,1001 L0,932 L200,792 L400,670"/>
<path d="M215,820 L390,710 M215,820 L220,850 L285,912 L290,940 L280,1085"/>
<path d="M0,935 L40,912 Q60,910 75,915 L150,955 Q180,970 210,970 Q240,968 260,960 L290,937"/>
<path d="M55,935 L40,1140"/>
</g>
<!-- CAR C: front wheel / fender in 9.8x coords of [840,1080] -->
<g transform="translate(840,1080) scale(0.10204)" class="s" stroke-width="14.5">
<path d="M1060,340 L890,430 L640,570 L470,690 L80,970"/>
<path d="M1176,490 L1100,530 L700,720 L160,1020"/>
<path d="M460,700 L475,440 Q480,420 500,415 Q540,400 580,395 L700,400 L890,420 M480,500 Q500,525 540,540 L640,575"/>
<path d="M1100,1040 L1200,1040 M1135,1040 L1135,830 Q1125,790 1100,760 Q1075,730 1040,715 Q1010,702 980,700 Q940,700 900,710 L860,730"/>
<path d="M395,1390 L430,1340 L445,1250 L490,1110 Q520,1040 560,980 Q598,925 640,880 Q688,835 740,800 Q800,760 860,735 L905,715"/>
<path d="M910,730 Q975,750 1020,780 Q1055,810 1075,850 Q1092,900 1095,950 L1090,1040"/>
<path d="M520,1100 Q555,1025 600,960 Q655,890 720,840 Q800,790 900,770"/>
<ellipse cx="800" cy="1140" rx="262" ry="392" transform="rotate(22 800 1140)"/>
<ellipse cx="800" cy="1142" rx="172" ry="258" transform="rotate(22 800 1142)"/>
<path d="M165,1215 L490,1110 M165,1470 L400,1395 L540,1450"/>
</g>
<!-- CAR B: fascia in 8.711x coords of [700,1090] -->
<g transform="translate(700,1090) scale(0.1148)" class="s" stroke-width="13">
<path stroke-width="28" stroke-linecap="butt" d="M500,0 L290,172"/>
<path d="M290,172 L250,200 Q200,235 180,265 Q150,310 130,360 L105,420 L100,480 L120,580 L150,660"/>
<path d="M250,200 L262,440 Q258,492 218,495 Q172,482 150,420 M250,200 Q192,240 176,310 Q170,390 200,470"/>
<path stroke-width="27" d="M150,660 L200,730 L350,850 L600,1010 L850,1130 L1000,1188"/>
<path d="M1000,1188 L1100,1240 L1300,1235 L1370,1220"/>
<path d="M120,440 L160,540 L250,640 L400,760 L600,860 L850,960 L1000,1010 L1150,1035 L1260,1030 L1370,1000"/>
<path d="M200,700 L260,720 L450,840 L700,980 L950,1090 L1000,1140 L990,1172 M150,640 L250,705 L500,862 L750,1002 L960,1092 M210,720 L330,850"/>
<path d="M290,196 L395,266 M250,290 L400,420 L560,482 L850,690 L900,720 L1100,770 L1210,770"/>
<ellipse cx="322" cy="520" rx="38" ry="76" transform="rotate(8 322 520)"/>
<ellipse cx="328" cy="518" rx="20" ry="56" transform="rotate(8 328 518)"/>
<path d="M400,540 Q400,505 425,498 Q445,493 465,498 L600,570 L750,660 Q805,700 830,740 Q838,770 825,792 Q800,812 770,810 Q735,805 700,790 L560,710 L440,630 Q410,600 400,540 Z"/>
<path d="M420,545 L540,640 M640,712 L790,785 M470,522 L600,600 L826,748 M440,600 L560,680"/>
<path d="M540,640 L580,625 L640,670 L622,695 L570,690 Z"/>
<ellipse cx="890" cy="850" rx="55" ry="76" transform="rotate(10 890 850)"/>
<ellipse cx="902" cy="850" rx="33" ry="60" transform="rotate(10 902 850)"/>
<path d="M960,930 Q965,895 980,870 Q1005,835 1040,810 Q1080,785 1130,775 L1250,770 Q1295,778 1320,800 Q1340,822 1340,850 Q1328,885 1300,910 Q1255,945 1200,970 Q1150,992 1100,1000 Q1040,1003 1000,990 Q965,970 960,930 Z"/>
<path d="M1020,900 Q1025,865 1050,840 Q1085,808 1130,790 M1250,920 Q1200,950 1150,960 Q1100,962 1060,945 Q1025,930 1020,900 M1250,920 L1300,880"/>
<path d="M1320,890 L1360,980 L1375,1080 L1365,1220"/>
<path d="M1050,1095 L1070,1085 L1310,1085 L1320,1110 L1280,1140 L1150,1150 L1080,1135 Z M1040,1185 L1280,1185 L1290,1200 L1260,1225 L1090,1230 Z"/>
<path stroke-width="16" d="M0,413 L1120,413"/>
<path stroke-width="14" d="M410,240 L410,345 M390,347 L425,347"/>
<path stroke-width="29" d="M520,330 L540,392 L560,420 L700,462 L1235,800"/>
<path class="f" d="M445,310 L480,295 L520,300 L540,330 L520,350 L470,350 Z M1200,790 L1260,780 L1235,830 L1215,820 Z"/>
<path stroke-dasharray="62 55" d="M455,190 L520,200 L600,245 L730,320 L850,385 L970,455 L1080,515 L1205,580"/>
<path stroke-dasharray="60 60" d="M1205,540 V770"/>
</g>
<!-- cushion on car -->
<g transform="translate(700,1090) scale(0.1148)">
<path class="w" stroke-width="16" d="M1120,350 L1120,490 Q1160,530 1200,530 Q1250,528 1285,490 L1285,350 Q1280,318 1200,312 Q1125,318 1120,350 Z"/>
<ellipse class="s" stroke-width="12" cx="1202" cy="358" rx="66" ry="30"/>
<path class="s" stroke-width="12" d="M1125,385 Q1200,430 1282,385"/>
<path class="f" d="M1120,440 Q1200,470 1285,440 L1285,492 Q1250,528 1200,530 Q1160,530 1120,490 Z"/>
<path stroke="#fff" stroke-width="8" fill="none" d="M1150,470 H1180 M1200,512 H1240"/>
</g>
<!-- callout 1 (car) -->
<circle class="s" cx="654.5" cy="1142.5" r="14.3" stroke-width="2"/>
<path class="s" stroke-width="1.9" d="M680.5,1137.4 H701"/>
<text x="654.5" y="1153" clip-path="url(#nofoot)" font-size="28" text-anchor="middle" stroke="#000" stroke-width="0.8" stroke-linejoin="round">1</text>
<!-- PROP ROD -->
<g fill="none" stroke-linejoin="round">
<path stroke="#000" stroke-width="6.7" stroke-linecap="butt" d="M326.1,1157.7 C325.2,1157.9 322.1,1157.9 320.5,1158.8 C318.9,1159.7 317.4,1161.4 316.6,1163.0 C315.9,1164.6 315.8,1166.6 316.0,1168.5 C316.2,1170.4 316.9,1173.0 318.0,1174.5 C319.1,1176.0 320.9,1177.1 322.5,1177.3 C324.1,1177.5 325.4,1177.4 327.5,1175.8 C329.6,1174.2 333.0,1169.8 335.0,1167.6 C337.0,1165.4 338.2,1163.8 339.5,1162.8 C340.8,1161.8 341.9,1161.3 343.0,1161.3 C344.1,1161.3 344.9,1161.1 346.0,1163.0 C347.1,1164.9 348.3,1168.1 349.8,1172.5 C351.3,1176.9 353.5,1183.9 354.8,1189.3 C356.1,1194.7 356.9,1201.8 357.7,1205.1 C358.5,1208.4 358.7,1207.8 359.5,1209.0 C360.3,1210.2 356.2,1208.0 362.7,1212.0 C369.2,1216.0 392.4,1229.3 398.3,1232.8 Q410,1237.5 414,1236.6 L429.9,1237.6 Q435,1238.7 439.8,1241.7 L717.2,1394.8"/>
<path stroke="#fff" stroke-width="2.5" stroke-linecap="butt" d="M326.1,1157.7 C325.2,1157.9 322.1,1157.9 320.5,1158.8 C318.9,1159.7 317.4,1161.4 316.6,1163.0 C315.9,1164.6 315.8,1166.6 316.0,1168.5 C316.2,1170.4 316.9,1173.0 318.0,1174.5 C319.1,1176.0 320.9,1177.1 322.5,1177.3 C324.1,1177.5 325.4,1177.4 327.5,1175.8 C329.6,1174.2 333.0,1169.8 335.0,1167.6 C337.0,1165.4 338.2,1163.8 339.5,1162.8 C340.8,1161.8 341.9,1161.3 343.0,1161.3 C344.1,1161.3 344.9,1161.1 346.0,1163.0 C347.1,1164.9 348.3,1168.1 349.8,1172.5 C351.3,1176.9 353.5,1183.9 354.8,1189.3 C356.1,1194.7 356.9,1201.8 357.7,1205.1 C358.5,1208.4 358.7,1207.8 359.5,1209.0 C360.3,1210.2 356.2,1208.0 362.7,1212.0 C369.2,1216.0 392.4,1229.3 398.3,1232.8 Q410,1237.5 414,1236.6 L429.9,1237.6 Q435,1238.7 439.8,1241.7 L717.2,1394.8"/>
<path stroke="#000" stroke-width="6.7" stroke-linecap="butt" d="M721.8,1397.3 L746.2,1411"/>
<path stroke="#fff" stroke-width="2.5" stroke-linecap="butt" d="M721.8,1397.3 L746.2,1411"/>
<path stroke="#000" stroke-width="6.7" stroke-linecap="butt" d="M750.6,1413.2 L768.9,1427.6 Q771.6,1429.8 769.5,1432.4 L753.5,1446.6"/>
<path stroke="#fff" stroke-width="2.5" stroke-linecap="butt" d="M750.6,1413.2 L768.9,1427.6 Q771.6,1429.8 769.5,1432.4 L766,1435.5 M763.3,1437.9 L758,1442.6"/>
</g>
<!-- rod bolt, dashed -->
<use href="#bolt" transform="translate(719.4,1285.9)"/>
<g class="s" stroke-width="1.5" stroke-dasharray="9.5 5.5">
<path d="M719.5,1333 V1462"/>
<path d="M719.5,1365.4 L743.8,1381.1 L748.3,1389.5 V1463"/>
</g>
<!-- bracket in 17.42x coords of [700,1400] -->
<g transform="translate(700,1400) scale(0.0574)">
<path class="f" d="M245,1125 L285,1080 L330,1080 L370,1050 L440,1030 L490,1010 L560,975 L615,960 L680,960 L715,985 L735,1040 L750,1050 L750,1115 L800,1115 L830,1150 L870,1115 L905,1115 L940,1160 L940,1195 L920,1235 L850,1265 L790,1275 L745,1300 L595,1300 L565,1270 L525,1230 L520,1195 L400,1200 L395,1215 L285,1215 L245,1195 Z"/>
<path fill="#fff" d="M520,1065 L560,1055 L600,1010 L650,990 L665,1025 L700,1030 L700,1160 L660,1170 L620,1200 L575,1170 L570,1120 Z M610,1245 L655,1200 L720,1170 L765,1170 L770,1195 L800,1205 L800,1235 L765,1245 L700,1255 L680,1270 L650,1270 Z M370,1075 L420,1095 L420,1150 L400,1150 L395,1118 L365,1100 Z M470,1115 L505,1115 L505,1150 L490,1150 Z M315,1098 h18 v14 h-18 Z"/>
</g>
<!-- holder in 22.4x coords of [330,1220] -->
<g transform="translate(330,1220) scale(0.04464)">
<path class="f" d="M745,200 L800,200 L870,230 L1030,340 L1030,640 L1120,700 L1120,820 L1045,915 L945,915 L895,990 L895,1110 L845,1165 L765,1165 L690,1095 L635,1095 L540,1000 L540,965 L480,965 L400,890 L330,870 L270,845 L270,675 L330,670 L370,630 L450,570 L450,360 L530,360 L575,400 L585,340 L630,270 L675,225 Z"/>
<g fill="#fff">
<path d="M735,270 L800,265 L940,340 L905,385 L885,360 L830,360 L775,315 Z"/>
<path d="M645,365 L705,310 L760,350 L810,380 L850,385 L850,465 L815,495 L780,450 L720,445 L690,405 L650,400 Z"/>
<path d="M490,565 L515,515 L550,515 L590,555 L640,560 L695,610 L670,640 L670,755 L640,785 L620,760 L580,760 L580,630 L520,630 L500,655 L490,650 Z"/>
<path d="M690,680 L715,655 L765,710 L800,715 L810,735 L780,760 L720,765 L705,785 L690,780 Z"/>
<path d="M805,585 L865,580 L880,605 L920,605 L920,655 L895,650 L880,630 L830,630 Z"/>
<path d="M355,730 L395,690 L420,690 L450,720 L450,760 L385,765 Z"/>
<path d="M310,775 L330,760 L345,785 L390,785 L440,825 L495,830 L495,870 L550,870 L590,915 L630,915 L640,940 L675,945 L670,965 L630,965 L620,945 L570,940 L530,895 L480,885 L400,845 L370,810 L320,790 Z"/>
<path d="M560,830 L625,830 L640,855 L735,855 L745,830 L800,825 L840,785 L880,780 L905,745 L955,740 L990,695 L1030,695 L1030,715 L1000,730 L970,765 L920,770 L915,795 L945,815 L915,855 L875,850 L870,830 L830,855 L770,855 L735,895 L640,895 L600,850 L565,850 Z"/>
<path d="M1005,765 L1050,760 L1050,785 L1005,785 Z M715,628 h25 v22 h-25 Z"/>
</g>
</g>
<!-- callouts 5, 4 -->
<g class="s" stroke-width="2"><circle cx="283.6" cy="1255.5" r="14.3"/><circle cx="555.1" cy="1374.1" r="14.3"/></g>
<g class="s" stroke-width="2"><path stroke-width="3" d="M306.3,1253.4 H343"/><path d="M553.3,1309 V1344"/></g>
<g font-size="28" text-anchor="middle" stroke="#000" stroke-width="0.8" stroke-linejoin="round"><text x="283.6" y="1266">5</text><text x="555.1" y="1384.6">4</text></g>
<!--PARTS-->
</svg>
</body></html>
